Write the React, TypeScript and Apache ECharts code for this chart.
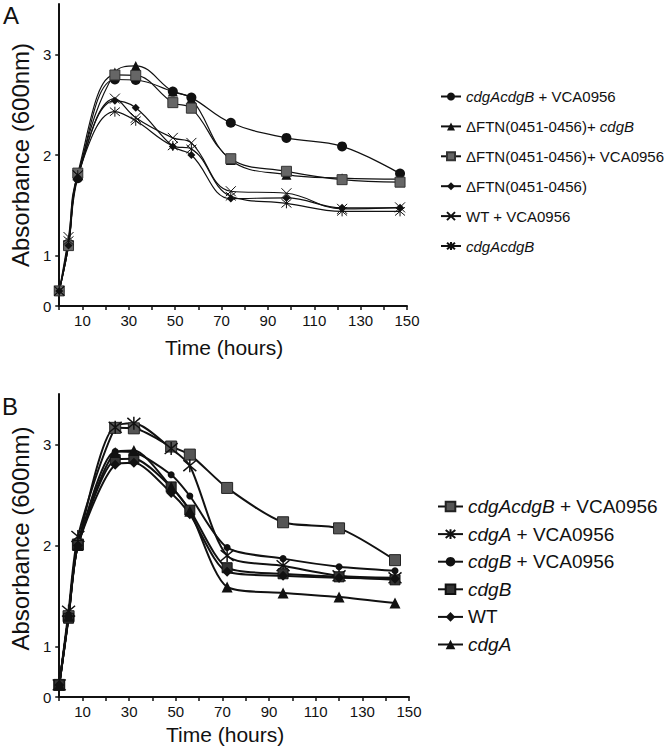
import React, { useEffect, useRef } from "react";
import * as echarts from "echarts";

// ---- Panel A data ----
const timeA = [0, 4, 8, 24, 33, 49, 57, 74, 98, 122, 147];
const aCdgAcdgBVca = [0.65, 1.1, 1.77, 2.75, 2.745, 2.63, 2.57, 2.32, 2.17, 2.085, 1.815];
const aFtnCdgB = [0.65, 1.12, 1.8, 2.82, 2.885, 2.63, 2.56, 1.95, 1.805, 1.77, 1.76];
const aFtnVca = [0.65, 1.1, 1.82, 2.795, 2.79, 2.52, 2.465, 1.963, 1.838, 1.755, 1.73];
const aFtn = [0.65, 1.1, 1.78, 2.54, 2.47, 2.085, 2.0, 1.567, 1.574, 1.475, 1.475];
const aWtVca = [0.65, 1.185, 1.8, 2.56, 2.37, 2.17, 2.12, 1.64, 1.62, 1.465, 1.48];
const aCdgAcdgB = [0.65, 1.15, 1.8, 2.43, 2.34, 2.09, 2.06, 1.59, 1.52, 1.44, 1.44];

// ---- Panel B data ----
const timeB = [0, 4, 8, 24, 32, 48, 56, 72, 96, 120, 144];
const bCdgAcdgBVca = [0.62, 1.3, 2.01, 3.165, 3.16, 2.98, 2.9, 2.57, 2.23, 2.17, 1.855];
const bCdgAVca = [0.62, 1.35, 2.09, 3.17, 3.21, 2.96, 2.79, 1.9, 1.8, 1.7, 1.68];
const bCdgBVca = [0.62, 1.3, 2.0, 2.93, 2.92, 2.7, 2.49, 1.98, 1.87, 1.79, 1.75];
const bCdgB = [0.62, 1.28, 2.0, 2.85, 2.86, 2.58, 2.35, 1.78, 1.72, 1.69, 1.66];
const bWt = [0.62, 1.3, 2.0, 2.8, 2.82, 2.52, 2.31, 1.74, 1.7, 1.68, 1.67];
const bCdgA = [0.62, 1.3, 2.0, 2.92, 2.94, 2.58, 2.34, 1.59, 1.53, 1.49, 1.43];

// ---- Axis ticks ----
const xLabelValues = [10, 30, 50, 70, 90, 110, 130, 150];
const yTickValues = [0.5, 1, 2, 3];

// legend labels (rich text)
const labels: Record<string, string> = {
  a1: "{i|cdgAcdgB}{r| + VCA0956}",
  a2: "{r|ΔFTN(0451-0456)+ }{i|cdgB}",
  a3: "{r|ΔFTN(0451-0456)+ VCA0956}",
  a4: "{r|ΔFTN(0451-0456)}",
  a5: "{r|WT + VCA0956}",
  a6: "{i|cdgAcdgB}",
  b1: "{i|cdgAcdgB}{r| + VCA0956}",
  b2: "{i|cdgA}{r| + VCA0956}",
  b3: "{i|cdgB}{r| + VCA0956}",
  b4: "{i|cdgB}",
  b5: "{r|WT}",
  b6: "{i|cdgA}",
};

const X_PATH = "path://M0,0L10,10M10,0L0,10";
const STAR_PATH = "path://M0,0L10,10M10,0L0,10M5,-1L5,11";
const FONT = "'Liberation Sans', Arial, Helvetica, sans-serif";
const INK = "#111";

function mk(
  name: string,
  times: number[],
  vals: number[],
  idx: number,
  symbol: string,
  size: number,
  fill: string,
  border: string,
  borderWidth: number,
  lineWidth: number,
  smooth: number
) {
  return {
    name,
    type: "line",
    xAxisIndex: idx,
    yAxisIndex: idx,
    data: times.map((t, i) => [t, vals[i]]),
    symbol,
    symbolSize: size,
    showAllSymbol: true,
    smooth,
    lineStyle: { color: INK, width: lineWidth },
    itemStyle: { color: fill, borderColor: border, borderWidth },
    emphasis: { disabled: true },
  };
}

function xAxis(idx: number, nameGap: number) {
  return {
    type: "value",
    gridIndex: idx,
    min: 0,
    max: 150,
    interval: 10,
    name: "Time (hours)",
    nameLocation: "middle",
    nameGap,
    nameTextStyle: { fontFamily: FONT, fontSize: 21, color: INK, padding: [0, 18, 0, 0] },
    axisLine: { lineStyle: { color: INK, width: 2 } },
    axisTick: { length: 4, lineStyle: { color: INK, width: 1.5 } },
    axisLabel: {
      customValues: xLabelValues,
      fontFamily: FONT,
      fontSize: 15,
      color: INK,
      margin: 7,
    },
    splitLine: { show: false },
  };
}

function yAxis(idx: number, padLeft: number) {
  return {
    type: "value",
    gridIndex: idx,
    min: 0.5,
    max: 3.5,
    name: "Absorbance (600nm)",
    nameLocation: "middle",
    nameGap: 26,
    nameTextStyle: { fontFamily: FONT, fontSize: 24, color: INK, padding: [0, 0, 0, padLeft] },
    axisLine: { show: true, lineStyle: { color: INK, width: 2 } },
    axisTick: { show: true, length: 4, customValues: yTickValues, lineStyle: { color: INK, width: 1.5 } },
    axisLabel: {
      customValues: yTickValues,
      formatter: (v: number) => (v === 0.5 ? "0" : String(v)),
      fontFamily: FONT,
      fontSize: 15,
      color: INK,
      margin: 8,
    },
    splitLine: { show: false },
  };
}

export default function App() {
  const ref = useRef<HTMLDivElement>(null);
  useEffect(() => {
    if (!ref.current) return;
    const chart = echarts.init(ref.current, undefined, { renderer: "svg" });
    const legendCommon = (fs: number, lh: number) => ({
      orient: "vertical",
      selectedMode: false,
      padding: 0,
      formatter: (n: string) => labels[n],
      textStyle: {
        fontFamily: FONT,
        fontSize: fs,
        color: INK,
        rich: {
          i: { fontStyle: "italic", fontSize: fs, fontFamily: FONT, color: INK, lineHeight: lh },
          r: { fontSize: fs, fontFamily: FONT, color: INK, lineHeight: lh },
        },
      },
    });
    chart.setOption({
      animation: false,
      backgroundColor: "#fff",
      textStyle: { fontFamily: FONT },
      grid: [
        { left: 54, top: 4, width: 353, height: 302 },
        { left: 57, top: 394, width: 352, height: 303 },
      ],
      xAxis: [xAxis(0, 31), xAxis(1, 27)],
      yAxis: [yAxis(0, 0), yAxis(1, 14)],
      legend: [
        {
          ...legendCommon(15, 18),
          left: 440,
          top: 89,
          itemWidth: 20,
          itemHeight: 10,
          itemGap: 14.9,
          data: ["a1", "a2", "a3", "a4", "a5", "a6"],
        },
        {
          ...legendCommon(19, 22),
          left: 437,
          top: 497,
          itemWidth: 25,
          itemHeight: 12,
          itemGap: 8.6,
          data: ["b1", "b2", "b3", "b4", "b5", "b6"],
        },
      ],
      graphic: [
        { type: "text", left: 3, top: 3, style: { text: "A", fontSize: 24, fontFamily: FONT, fill: INK } },
        { type: "text", left: 2, top: 394, style: { text: "B", fontSize: 24, fontFamily: FONT, fill: INK } },
      ],
      series: [
        mk("a1", timeA, aCdgAcdgBVca, 0, "circle", 10, INK, INK, 0, 1.2, 0.4),
        mk("a2", timeA, aFtnCdgB, 0, "triangle", 10, INK, INK, 0, 1.2, 0.4),
        mk("a3", timeA, aFtnVca, 0, "rect", 10, "#666", "#333", 1, 1.2, 0.4),
        mk("a4", timeA, aFtn, 0, "diamond", 8, INK, INK, 0, 1.2, 0.4),
        mk("a5", timeA, aWtVca, 0, X_PATH, 10, "none", INK, 1, 1.2, 0.4),
        mk("a6", timeA, aCdgAcdgB, 0, STAR_PATH, 10, "none", INK, 1, 1.2, 0.4),
        mk("b1", timeB, bCdgAcdgBVca, 1, "rect", 11, "#555", "#222", 1, 2, 0.25),
        mk("b2", timeB, bCdgAVca, 1, STAR_PATH, 13, "none", INK, 1.5, 2, 0.25),
        mk("b3", timeB, bCdgBVca, 1, "circle", 7, INK, INK, 0, 2, 0.25),
        mk("b4", timeB, bCdgB, 1, "rect", 10, "#333", INK, 1, 2, 0.25),
        mk("b5", timeB, bWt, 1, "diamond", 10, INK, INK, 0, 2, 0.25),
        mk("b6", timeB, bCdgA, 1, "triangle", 11, INK, INK, 0, 2, 0.25),
      ],
    });
    return () => chart.dispose();
  }, []);
  return (
    <div
      ref={ref}
      style={{ position: "fixed", left: 0, top: 0, width: 666, height: 750, background: "#fff" }}
    />
  );
}
